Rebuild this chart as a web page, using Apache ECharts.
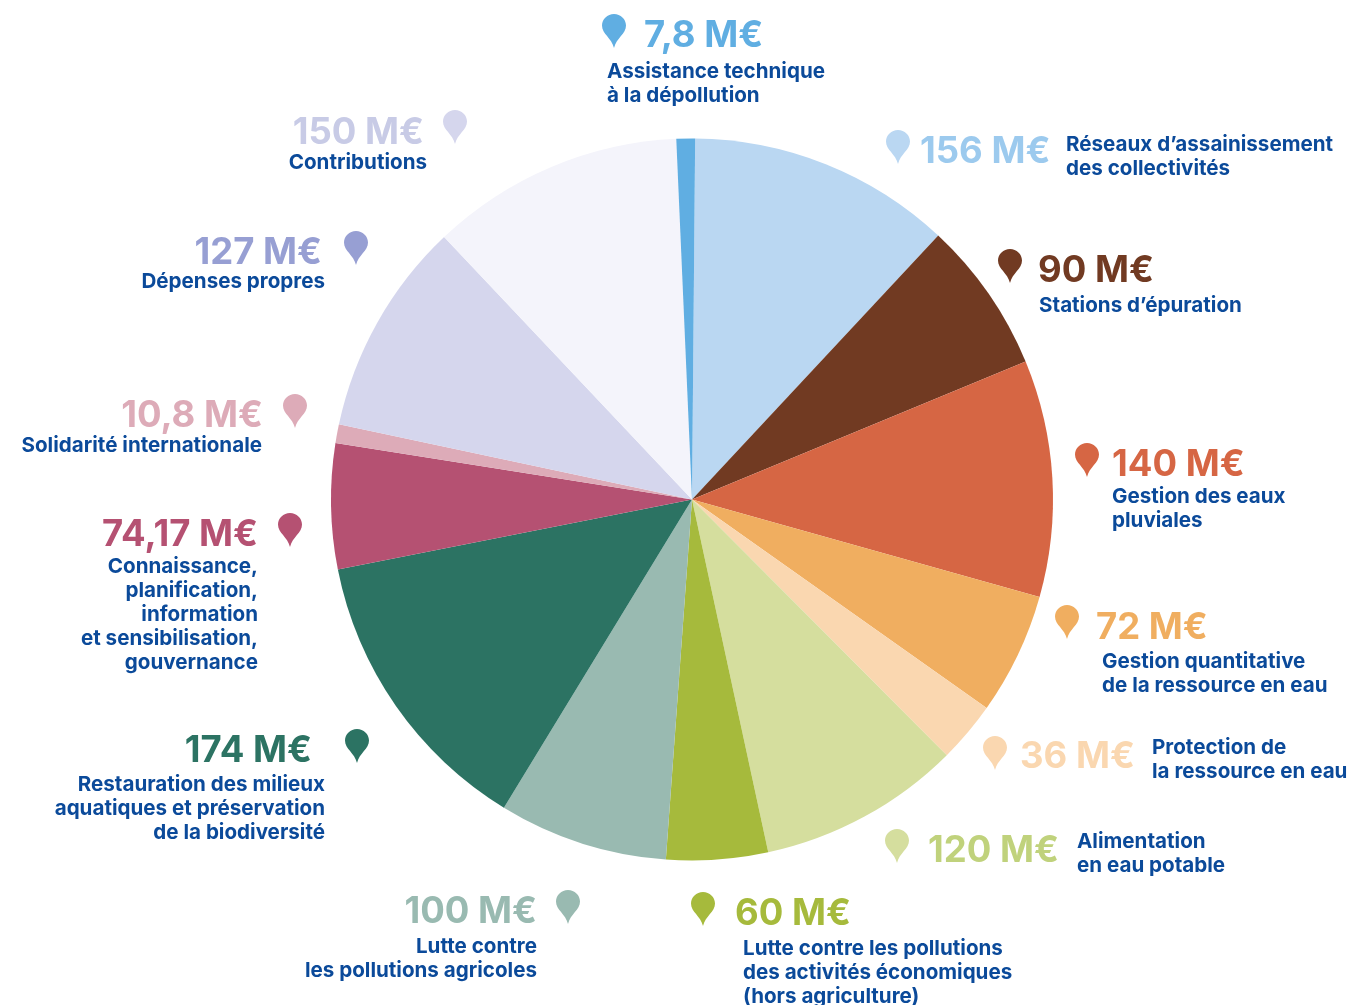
<!DOCTYPE html>
<html>
<head>
<meta charset="utf-8">
<title>Répartition des dépenses</title>
<script src="https://cdn.jsdelivr.net/npm/echarts@6/dist/echarts.min.js"></script>
<style>
  html, body { margin: 0; padding: 0; background: #fff; }
  #chart { width: 1362px; height: 1005px; }
</style>
</head>
<body>
<div id="chart"></div>
<script>
// valeurs (M€), dans le sens horaire
const values = [156, 90, 140, 72, 36, 120, 60, 100, 174, 74.17, 10.8, 127, 150, 7.8];
const amounts = ['156 M€', '90 M€', '140 M€', '72 M€', '36 M€', '120 M€', '60 M€', '100 M€', '174 M€', '74,17 M€', '10,8 M€', '127 M€', '150 M€', '7,8 M€'];
const names = [
  ['Réseaux d’assainissement', 'des collectivités'],
  ['Stations d’épuration'],
  ['Gestion des eaux', 'pluviales'],
  ['Gestion quantitative', 'de la ressource en eau'],
  ['Protection de', 'la ressource en eau'],
  ['Alimentation', 'en eau potable'],
  ['Lutte contre les pollutions', 'des activités économiques', '(hors agriculture)'],
  ['Lutte contre', 'les pollutions agricoles'],
  ['Restauration des milieux', 'aquatiques et préservation', 'de la biodiversité'],
  ['Connaissance,', 'planification,', 'information', 'et sensibilisation,', 'gouvernance'],
  ['Solidarité internationale'],
  ['Dépenses propres'],
  ['Contributions'],
  ['Assistance technique', 'à la dépollution']
];
const sliceColors = ['#BAD7F2', '#713A22', '#D66644', '#F0AE60', '#FAD7B0', '#D5DE9E', '#A6BA3C', '#99BAB1', '#2C7363', '#B55172', '#DDABB8', '#D5D6ED', '#F4F4FB', '#60AEE2'];
const amountColors = ['#9CCAEE', '#713A22', '#D66644', '#F0AE60', '#FAD7B0', '#C0D27C', '#A6BA3C', '#99BAB1', '#2C7363', '#B55172', '#DDABB8', '#979FD3', '#C8CBE6', '#60AEE2'];
const pinColors = ['#BAD7F2', '#713A22', '#D66644', '#F0AE60', '#FAD7B0', '#D5DE9E', '#A6BA3C', '#99BAB1', '#2C7363', '#B55172', '#DDABB8', '#979FD3', '#D5D6ED', '#60AEE2'];

// placement des étiquettes : pin [x, y], montant [x, y, align], libellé [x, y première ligne, align]
const labelPos = [
  { pin: [886, 130], amount: [920, 152.5, 'left'], text: [1066, 145, 'left'] },
  { pin: [998, 249], amount: [1038, 271, 'left'], text: [1039, 306, 'left'] },
  { pin: [1075, 443], amount: [1112, 465.5, 'left'], text: [1112, 497, 'left'] },
  { pin: [1055, 605], amount: [1096, 628.5, 'left'], text: [1102, 662, 'left'] },
  { pin: [983, 736], amount: [1020, 757.5, 'left'], text: [1152, 748, 'left'] },
  { pin: [885, 829], amount: [928, 851.5, 'left'], text: [1077, 842, 'left'] },
  { pin: [691, 892], amount: [735, 914.5, 'left'], text: [743, 949, 'left'] },
  { pin: [556, 890], amount: [537, 912.5, 'right'], text: [537, 947, 'right'] },
  { pin: [345, 729], amount: [312, 751.5, 'right'], text: [325, 785, 'right'] },
  { pin: [278, 513], amount: [258, 535.5, 'right'], text: [258, 567, 'right'] },
  { pin: [283, 394], amount: [263, 416.5, 'right'], text: [262, 446, 'right'] },
  { pin: [344, 231], amount: [322, 253.5, 'right'], text: [325, 282, 'right'] },
  { pin: [443, 110], amount: [424, 133.5, 'right'], text: [427, 163, 'right'] },
  { pin: [602, 14], amount: [644, 36.5, 'left'], text: [607, 72, 'left'] }
];

const FONT = 'Inter, "Noto Sans", sans-serif';

// forme du repère (goutte inversée), 24 x 34
echarts.graphic.registerShape('pin', echarts.graphic.extendShape({
  buildPath(ctx) {
    ctx.moveTo(12, 0);
    ctx.bezierCurveTo(18.6, 0, 24, 5.2, 24, 11.6);
    ctx.bezierCurveTo(24, 20, 14.5, 24, 12, 34);
    ctx.bezierCurveTo(9.5, 24, 0, 20, 0, 11.6);
    ctx.bezierCurveTo(0, 5.2, 5.4, 0, 12, 0);
    ctx.closePath();
  }
}));

const graphics = [];
labelPos.forEach((p, i) => {
  graphics.push({
    type: 'pin',
    x: p.pin[0],
    y: p.pin[1],
    shape: {},
    style: { fill: pinColors[i] }
  });
  graphics.push({
    type: 'text',
    x: p.amount[0],
    y: p.amount[1],
    style: {
      text: amounts[i],
      fill: amountColors[i],
      font: '700 36.5px ' + FONT,
      align: p.amount[2],
      verticalAlign: 'middle'
    }
  });
  names[i].forEach((line, j) => {
    graphics.push({
      type: 'text',
      x: p.text[0],
      y: p.text[1] + j * 24,
      style: {
        text: line,
        fill: '#0B4A9A',
        font: '700 20.6px ' + FONT,
        align: p.text[2],
        verticalAlign: 'middle'
      }
    });
  });
});

const chart = echarts.init(document.getElementById('chart'));
chart.setOption({
  animation: false,
  graphic: graphics,
  series: [
    {
      type: 'pie',
      center: [692, 499.5],
      radius: [0, 361],
      startAngle: 89.5,
      minAngle: 3,
      clockwise: true,
      silent: true,
      label: { show: false },
      labelLine: { show: false },
      data: values.map((v, i) => ({
        value: v,
        name: names[i].join(' '),
        itemStyle: { color: sliceColors[i] }
      }))
    }
  ]
});
</script>
</body>
</html>
